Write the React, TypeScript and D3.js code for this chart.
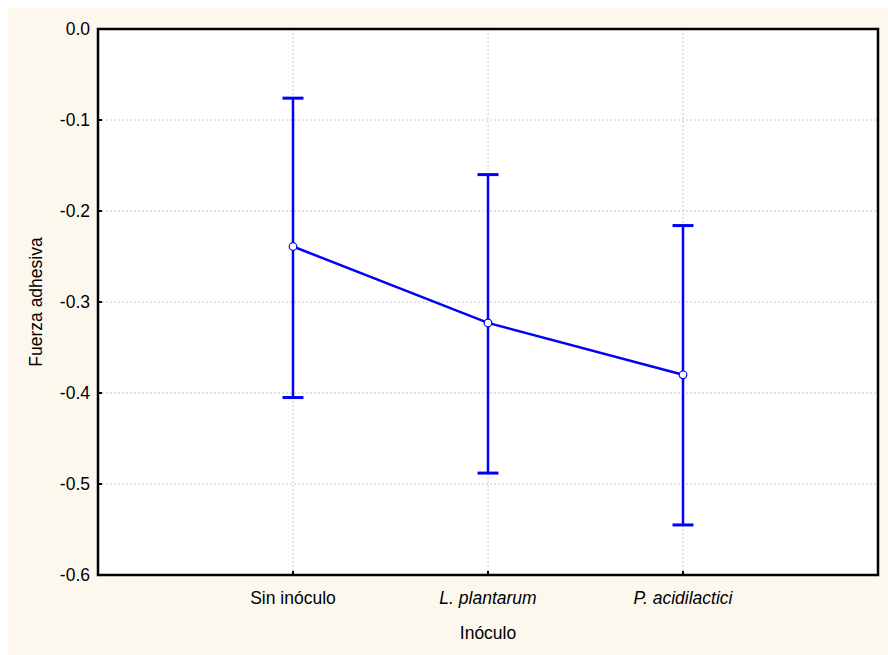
import React from "react";
import * as d3 from "d3";

const categories = ["Sin inóculo", "L. plantarum", "P. acidilactici"];
const italicCategory = [false, true, true];
const means = [-0.239, -0.323, -0.380];
const lower = [-0.405, -0.488, -0.545];
const upper = [-0.076, -0.160, -0.216];
const yTicks = [0.0, -0.1, -0.2, -0.3, -0.4, -0.5, -0.6];

const W = 888;
const H = 655;
const margin = { left: 98, top: 29 };
const plotRight = 878;
const plotBottom = 575;

// plain hyphen for negative numbers, one decimal
const fmtTick = (t: number) => (t === 0 ? "0.0" : d3.format(".1f")(t).replace("\u2212", "-"));

export default function App() {
  const x = d3
    .scalePoint<string>()
    .domain(categories)
    .range([margin.left, plotRight])
    .padding(1);
  const y = d3.scaleLinear().domain([-0.6, 0]).range([plotBottom, margin.top]);

  const line = d3
    .line<number>()
    .x((_, i) => x(categories[i]) as number)
    .y((d) => y(d));

  const font = "Arial, 'Liberation Sans', sans-serif";
  const fs = 17.5;
  const blue = "#0000FF";
  const capHalf = 10.5;

  return (
    <svg
      width={W}
      height={H}
      style={{ position: "fixed", left: 0, top: 0, display: "block" }}
    >
      <rect x={8} y={8} width={W - 8} height={H - 8} fill="#FDF8EE" />
      <rect
        x={margin.left}
        y={margin.top}
        width={plotRight - margin.left}
        height={plotBottom - margin.top}
        fill="#FFFFFF"
      />
      {/* grid */}
      {yTicks.slice(1, -1).map((t) => (
        <line
          key={"gy" + t}
          x1={margin.left}
          x2={plotRight}
          y1={y(t)}
          y2={y(t)}
          stroke="#C8C8C8"
          strokeWidth={1}
          strokeDasharray="2,2"
        />
      ))}
      {categories.map((c) => (
        <line
          key={"gx" + c}
          x1={x(c)}
          x2={x(c)}
          y1={margin.top}
          y2={plotBottom}
          stroke="#C8C8C8"
          strokeWidth={1}
          strokeDasharray="2,2"
        />
      ))}
      {/* error bars */}
      {categories.map((c, i) => {
        const cx = x(c) as number;
        return (
          <g key={"eb" + c} stroke={blue} strokeWidth={2.5}>
            <line x1={cx} x2={cx} y1={y(upper[i])} y2={y(lower[i])} />
            <line
              x1={cx - capHalf}
              x2={cx + capHalf}
              y1={y(upper[i])}
              y2={y(upper[i])}
              strokeWidth={3}
            />
            <line
              x1={cx - capHalf}
              x2={cx + capHalf}
              y1={y(lower[i])}
              y2={y(lower[i])}
              strokeWidth={3}
            />
          </g>
        );
      })}
      <path d={line(means) || ""} fill="none" stroke={blue} strokeWidth={2.5} />
      {categories.map((c, i) => (
        <circle
          key={"pt" + c}
          cx={x(c)}
          cy={y(means[i])}
          r={3.8}
          fill="#FFFFFF"
          stroke={blue}
          strokeWidth={1.2}
        />
      ))}
      {/* frame */}
      <rect
        x={margin.left}
        y={margin.top}
        width={plotRight - margin.left}
        height={plotBottom - margin.top}
        fill="none"
        stroke="#000000"
        strokeWidth={2.5}
      />
      {/* y ticks */}
      {yTicks.map((t) => (
        <g key={"yt" + t}>
          <line
            x1={margin.left}
            x2={margin.left + 4}
            y1={y(t)}
            y2={y(t)}
            stroke="#000"
            strokeWidth={2}
          />
          <text
            x={90}
            y={y(t)}
            dy="0.36em"
            textAnchor="end"
            fontFamily={font}
            fontSize={fs}
            fill="#000"
          >
            {fmtTick(t)}
          </text>
        </g>
      ))}
      {/* x ticks */}
      {categories.map((c, i) => (
        <g key={"xt" + c}>
          <line
            x1={x(c)}
            x2={x(c)}
            y1={plotBottom}
            y2={plotBottom - 4}
            stroke="#000"
            strokeWidth={2}
          />
          <text
            x={x(c)}
            y={604}
            textAnchor="middle"
            fontFamily={font}
            fontSize={fs}
            fontStyle={italicCategory[i] ? "italic" : "normal"}
            fill="#000"
          >
            {c}
          </text>
        </g>
      ))}
      <text
        x={(margin.left + plotRight) / 2}
        y={639}
        textAnchor="middle"
        fontFamily={font}
        fontSize={fs}
        fill="#000"
      >
        Inóculo
      </text>
      <text
        transform={`translate(42, ${(margin.top + plotBottom) / 2}) rotate(-90)`}
        textAnchor="middle"
        fontFamily={font}
        fontSize={fs}
        fill="#000"
      >
        Fuerza adhesiva
      </text>
    </svg>
  );
}
